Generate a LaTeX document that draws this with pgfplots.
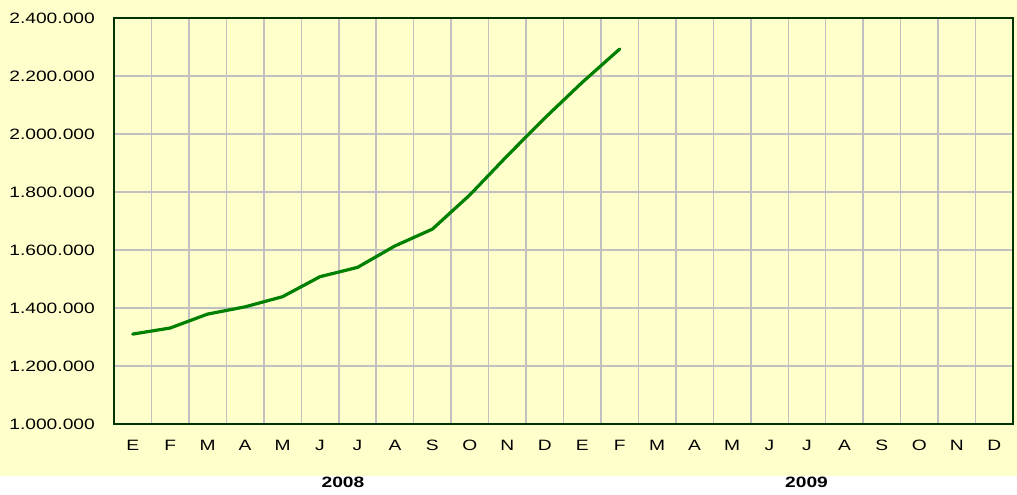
\documentclass[border=0pt]{standalone}
\usepackage{pgfplots}
\pgfplotsset{compat=1.18}
\usepackage{fontspec}
\setmainfont{Liberation Sans}[FakeStretch=1.28]
\definecolor{bgyellow}{HTML}{FFFFCC}
\definecolor{gridgray}{HTML}{C0C0C0}
\definecolor{linegreen}{HTML}{008000}
\definecolor{framegreen}{HTML}{003300}
\begin{document}
\begin{tikzpicture}
\fill[bgyellow] (-114pt,-52pt) rectangle (903pt,424pt);
\begin{axis}[
  at={(0pt,0pt)}, anchor=south west,
  scale only axis, width=899pt, height=406pt,
  xmin=-0.5, xmax=23.5, ymin=1000000, ymax=2400000,
  xtick={0,...,23},
  xticklabels={E,F,M,A,M,J,J,A,S,O,N,D,E,F,M,A,M,J,J,A,S,O,N,D},
  minor xtick={-0.5,0.5,...,23.5},
  ytick={1000000,1200000,1400000,1600000,1800000,2000000,2200000,2400000},
  ymajorgrids, xminorgrids,
  grid style={gridgray, line width=1.5pt},
  minor grid style={gridgray, line width=1.5pt},
  major tick length=0pt, minor tick length=0pt,
  axis line style={framegreen, line width=2pt},
  ticklabel style={font=\fontsize{15}{18}\selectfont},
  xticklabel style={anchor=center, inner sep=0pt, yshift=-21pt},
  yticklabel style={anchor=east, inner sep=0pt, xshift=-19pt},
  scaled y ticks=false,
  y tick label style={/pgf/number format/.cd, fixed, 1000 sep={.}, assume math mode=true},
  clip=false,
]
\addplot[linegreen, line width=3.2pt, line join=round, line cap=round] coordinates {
  (0,1310000) (1,1331000) (2,1379000) (3,1404000) (4,1439000) (5,1508000)
  (6,1540000) (7,1614000) (8,1672000) (9,1790000) (10,1925000) (11,2055000)
  (12,2178000) (13,2293000)
};
\end{axis}
\node[font=\bfseries\fontsize{15}{18}\selectfont] at (229pt,-58.5pt) {2008};
\node[font=\bfseries\fontsize{15}{18}\selectfont] at (692.5pt,-58.5pt) {2009};
\pgfresetboundingbox
\path (-114pt,-71pt) rectangle (903pt,424pt);
\end{tikzpicture}
\end{document}
